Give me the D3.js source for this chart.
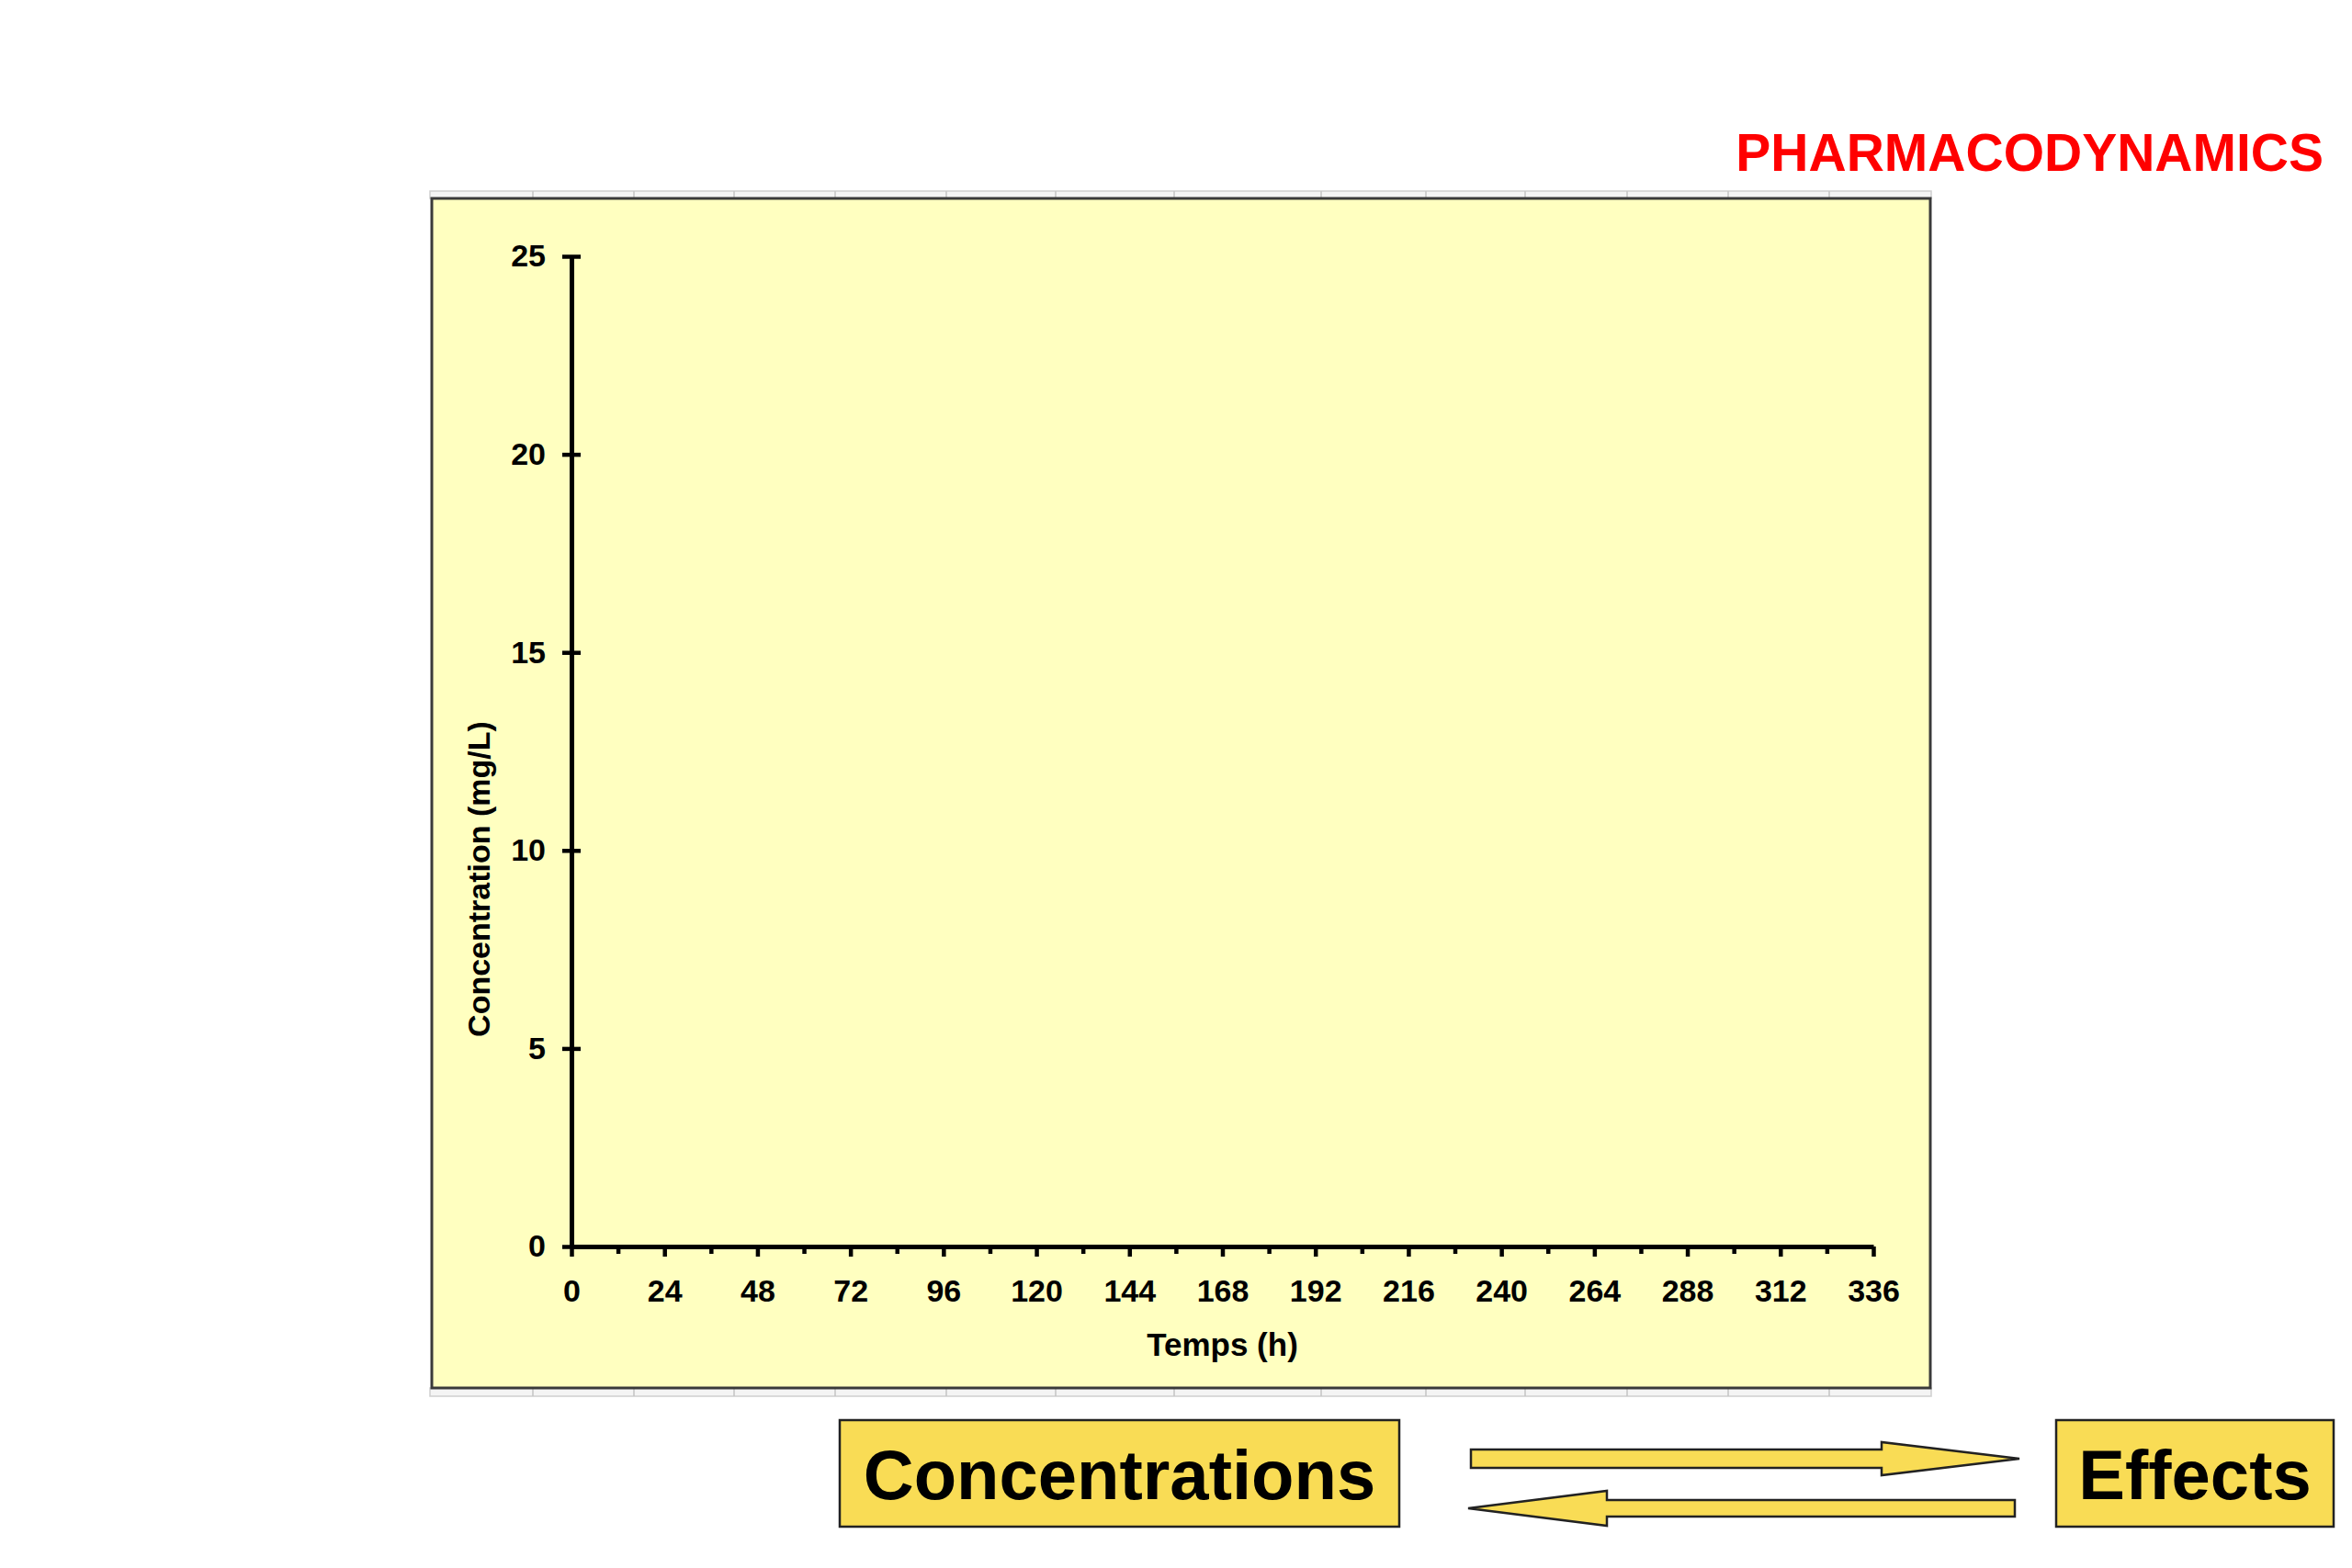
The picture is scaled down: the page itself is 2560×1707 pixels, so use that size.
<!DOCTYPE html>
<html>
<head>
<meta charset="utf-8">
<script src="https://cdn.jsdelivr.net/npm/d3@7"></script>
<style>
  html, body { margin: 0; padding: 0; background: #ffffff; }
  svg { display: block; }
  text { font-family: "Liberation Sans", Arial, Helvetica, sans-serif; font-weight: bold; }
</style>
</head>
<body>
<svg id="chart" width="2560" height="1707"></svg>
<script>
// ---- data ----
const title = "PHARMACODYNAMICS";
const xTitle = "Temps (h)";
const yTitle = "Concentration (mg/L)";
const xDomain = [0, 336];
const yDomain = [0, 25];
const xMajorTicks = [0, 24, 48, 72, 96, 120, 144, 168, 192, 216, 240, 264, 288, 312, 336];
const xMinorTicks = [12, 36, 60, 84, 108, 132, 156, 180, 204, 228, 252, 276, 300, 324];
const yTicks = [0, 5, 10, 15, 20, 25];
const boxLabels = ["Concentrations", "Effects"];
// (no data series are plotted in the reference: the plot area is empty)

// ---- layout ----
const frame = { x0: 470, y0: 216, x1: 2101, y1: 1511 };
const plot = { left: 622, right: 2039, top: 279, bottom: 1357 };
const cellDividers = [580, 690, 799, 909, 1030, 1149, 1278, 1438, 1552, 1660, 1771, 1881, 1991];

const svg = d3.select("#chart");

// light grey spreadsheet bands above/below the chart frame
const bands = svg.append("g");
[[frame.y0 - 8, frame.y0], [frame.y1, frame.y1 + 9]].forEach(([a, b]) => {
  bands.append("rect").attr("x", frame.x0 - 2).attr("y", a).attr("width", frame.x1 - frame.x0 + 3).attr("height", b - a)
    .attr("fill", "#f4f4f4").attr("stroke", "#cfcfcf").attr("stroke-width", 1.5);
  cellDividers.forEach(x => {
    bands.append("line").attr("x1", x).attr("x2", x).attr("y1", a).attr("y2", b)
      .attr("stroke", "#c4c4c4").attr("stroke-width", 1.5);
  });
});

// chart frame
svg.append("rect")
  .attr("x", frame.x0).attr("y", frame.y0)
  .attr("width", frame.x1 - frame.x0).attr("height", frame.y1 - frame.y0)
  .attr("fill", "#FFFFC0").attr("stroke", "#3a3a3a").attr("stroke-width", 3);

// scales
const x = d3.scaleLinear().domain(xDomain).range([plot.left, plot.right]);
const y = d3.scaleLinear().domain(yDomain).range([plot.bottom, plot.top]);

// x minor ticks
const xMinor = svg.append("g").attr("transform", `translate(0,${plot.bottom})`)
  .call(d3.axisBottom(x).tickValues(xMinorTicks).tickSize(8).tickSizeOuter(0).tickFormat(""));
xMinor.select(".domain").remove();
xMinor.selectAll(".tick line").attr("stroke", "#000").attr("stroke-width", 4.5);

// x major axis
const xAxis = svg.append("g").attr("transform", `translate(0,${plot.bottom})`)
  .call(d3.axisBottom(x).tickValues(xMajorTicks).tickSize(11).tickSizeOuter(0).tickPadding(25).tickFormat(d3.format("d")));
xAxis.select(".domain").attr("stroke", "#000").attr("stroke-width", 5);
xAxis.selectAll(".tick line").attr("stroke", "#000").attr("stroke-width", 4.5);
xAxis.selectAll(".tick text").attr("fill", "#000").style("font-size", "34px")
  .style("font-family", "'Liberation Sans', Arial, sans-serif").style("font-weight", "bold");

// y axis (cross ticks)
const yAxis = svg.append("g").attr("transform", `translate(${plot.left},0)`)
  .call(d3.axisLeft(y).tickValues(yTicks).tickSize(10).tickSizeOuter(0).tickPadding(18).tickFormat(d3.format("d")));
yAxis.select(".domain").attr("stroke", "#000").attr("stroke-width", 5);
yAxis.selectAll(".tick line").attr("stroke", "#000").attr("stroke-width", 4.5);
yAxis.selectAll(".tick").append("line").attr("x1", 0).attr("x2", 10).attr("stroke", "#000").attr("stroke-width", 4.5);
yAxis.selectAll(".tick text").attr("fill", "#000").style("font-size", "34px")
  .style("font-family", "'Liberation Sans', Arial, sans-serif").style("font-weight", "bold");

// axis titles
svg.append("text").attr("x", (plot.left + plot.right) / 2).attr("y", 1476)
  .attr("text-anchor", "middle").style("font-size", "35px").attr("fill", "#000").text(xTitle);
svg.append("text").attr("transform", "translate(533,957) rotate(-90)")
  .attr("text-anchor", "middle").style("font-size", "34px").attr("fill", "#000").text(yTitle);

// page title
svg.append("text").attr("x", 2529).attr("y", 186).attr("text-anchor", "end")
  .style("font-size", "57px").attr("fill", "#FF0000").text(title);

// bottom boxes
const boxFill = "#F9DC55";
const boxes = [
  { x0: 914, x1: 1523, label: boxLabels[0] },
  { x0: 2238, x1: 2540, label: boxLabels[1] }
];
const by0 = 1546, by1 = 1662;
boxes.forEach(b => {
  svg.append("rect").attr("x", b.x0).attr("y", by0).attr("width", b.x1 - b.x0).attr("height", by1 - by0)
    .attr("fill", boxFill).attr("stroke", "#222").attr("stroke-width", 2.5);
  svg.append("text").attr("x", (b.x0 + b.x1) / 2).attr("y", 1632).attr("text-anchor", "middle")
    .style("font-size", "76px").attr("fill", "#000").text(b.label);
});

// arrows
const arrowRight = [[1601,1578],[2048,1578],[2048,1570],[2198,1588],[2048,1606],[2048,1598],[1601,1598]];
const arrowLeft = [[2193,1633],[1749,1633],[1749,1623],[1598,1642],[1749,1661],[1749,1651],[2193,1651]];
[arrowRight, arrowLeft].forEach(pts => {
  svg.append("polygon").attr("points", pts.map(p => p.join(",")).join(" "))
    .attr("fill", boxFill).attr("stroke", "#222").attr("stroke-width", 2.5).attr("stroke-linejoin", "miter");
});
</script>
</body>
</html>
